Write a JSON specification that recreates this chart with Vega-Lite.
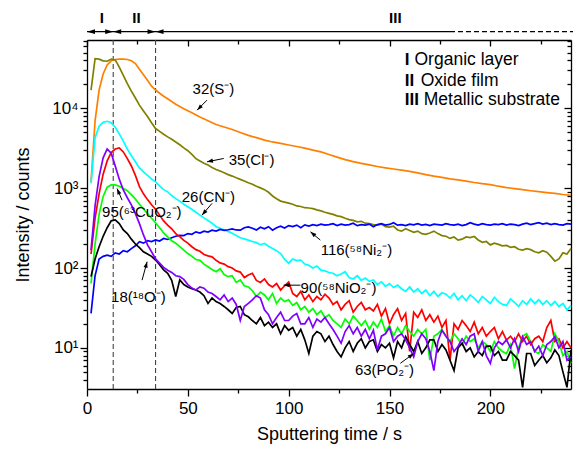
{
"$schema": "https://vega.github.io/schema/vega-lite/v6.json",
"width": 484, "height": 349,
"autosize": "none",
"padding": {"left": 87, "top": 40, "right": 2, "bottom": 63},
"background": "white",
"config": {
 "view": {"stroke": null},
 "font": "Liberation Sans",
 "axis": {"domainColor": "black", "tickColor": "black", "labelColor": "black", "titleColor": "black", "grid": false, "domainWidth": 1.3, "tickWidth": 1.3, "labelFont": "Liberation Sans", "titleFont": "Liberation Sans", "titleFontWeight": "normal", "labelFontSize": 17, "titleFontSize": 18, "labelOverlap": false, "labelFlush": false}
},
"datasets": {
"d": [
{"s":"S","t":2,"v":1200},{"s":"S","t":4,"v":7000},{"s":"S","t":6,"v":17000},{"s":"S","t":8,"v":27000},{"s":"S","t":10,"v":35000},{"s":"S","t":12,"v":39500},{"s":"S","t":14,"v":41000},{"s":"S","t":16,"v":41500},{"s":"S","t":18,"v":41500},{"s":"S","t":20,"v":41000},{"s":"S","t":22,"v":39500},{"s":"S","t":24,"v":36500},{"s":"S","t":26,"v":31000},{"s":"S","t":28,"v":26500},{"s":"S","t":30,"v":22500},{"s":"S","t":32,"v":19000},{"s":"S","t":34,"v":17000},{"s":"S","t":36,"v":15500},{"s":"S","t":38,"v":14200},{"s":"S","t":40,"v":13200},{"s":"S","t":44,"v":11300},{"s":"S","t":48,"v":9900},{"s":"S","t":52,"v":8800},{"s":"S","t":56,"v":7800},{"s":"S","t":60,"v":7000},{"s":"S","t":64,"v":6300},{"s":"S","t":68,"v":5850},{"s":"S","t":72,"v":5450},{"s":"S","t":76,"v":5000},{"s":"S","t":80,"v":4600},{"s":"S","t":84,"v":4300},{"s":"S","t":88,"v":4000},{"s":"S","t":92,"v":3800},{"s":"S","t":96,"v":3640},{"s":"S","t":100,"v":3480},{"s":"S","t":104,"v":3330},{"s":"S","t":108,"v":3180},{"s":"S","t":112,"v":3000},{"s":"S","t":116,"v":2850},{"s":"S","t":120,"v":2650},{"s":"S","t":124,"v":2450},{"s":"S","t":128,"v":2280},{"s":"S","t":132,"v":2150},{"s":"S","t":136,"v":2050},{"s":"S","t":140,"v":1960},{"s":"S","t":144,"v":1870},{"s":"S","t":148,"v":1800},{"s":"S","t":152,"v":1740},{"s":"S","t":156,"v":1690},{"s":"S","t":160,"v":1630},{"s":"S","t":164,"v":1560},{"s":"S","t":168,"v":1480},{"s":"S","t":172,"v":1420},{"s":"S","t":176,"v":1370},{"s":"S","t":180,"v":1310},{"s":"S","t":184,"v":1270},{"s":"S","t":188,"v":1230},{"s":"S","t":192,"v":1180},{"s":"S","t":196,"v":1140},{"s":"S","t":200,"v":1110},{"s":"S","t":204,"v":1060},{"s":"S","t":208,"v":1020},{"s":"S","t":212,"v":990},{"s":"S","t":216,"v":960},{"s":"S","t":220,"v":930},{"s":"S","t":224,"v":905},{"s":"S","t":228,"v":880},{"s":"S","t":232,"v":860},{"s":"S","t":236,"v":835},{"s":"S","t":240,"v":815},
{"s":"Cl","t":2,"v":17000},{"s":"Cl","t":4,"v":42000},{"s":"Cl","t":6,"v":41500},{"s":"Cl","t":8,"v":39500},{"s":"Cl","t":10,"v":39000},{"s":"Cl","t":12,"v":41500},{"s":"Cl","t":14,"v":40500},{"s":"Cl","t":16,"v":33000},{"s":"Cl","t":18,"v":26000},{"s":"Cl","t":20,"v":20500},{"s":"Cl","t":22,"v":16500},{"s":"Cl","t":24,"v":13500},{"s":"Cl","t":26,"v":11000},{"s":"Cl","t":28,"v":9300},{"s":"Cl","t":30,"v":7900},{"s":"Cl","t":32,"v":6600},{"s":"Cl","t":34,"v":5600},{"s":"Cl","t":36,"v":5150},{"s":"Cl","t":38,"v":4750},{"s":"Cl","t":40,"v":4400},{"s":"Cl","t":42,"v":4100},{"s":"Cl","t":44,"v":3800},{"s":"Cl","t":46,"v":3500},{"s":"Cl","t":48,"v":3200},{"s":"Cl","t":50,"v":2950},{"s":"Cl","t":52,"v":2650},{"s":"Cl","t":54,"v":2350},{"s":"Cl","t":56,"v":2200},{"s":"Cl","t":58,"v":2050},{"s":"Cl","t":60,"v":1950},{"s":"Cl","t":62,"v":1820},{"s":"Cl","t":64,"v":1720},{"s":"Cl","t":66,"v":1640},{"s":"Cl","t":68,"v":1560},{"s":"Cl","t":70,"v":1480},{"s":"Cl","t":72,"v":1420},{"s":"Cl","t":74,"v":1350},{"s":"Cl","t":76,"v":1290},{"s":"Cl","t":78,"v":1230},{"s":"Cl","t":80,"v":1170},{"s":"Cl","t":82,"v":1120},{"s":"Cl","t":84,"v":1060},{"s":"Cl","t":86,"v":1010},{"s":"Cl","t":88,"v":960},{"s":"Cl","t":90,"v":890},{"s":"Cl","t":92,"v":800},{"s":"Cl","t":94,"v":740},{"s":"Cl","t":96,"v":690},{"s":"Cl","t":98,"v":670},{"s":"Cl","t":100,"v":650},{"s":"Cl","t":102,"v":630},{"s":"Cl","t":104,"v":600},{"s":"Cl","t":106,"v":590},{"s":"Cl","t":108,"v":570},{"s":"Cl","t":110,"v":565},{"s":"Cl","t":112,"v":555},{"s":"Cl","t":114,"v":535},{"s":"Cl","t":116,"v":520},{"s":"Cl","t":118,"v":500},{"s":"Cl","t":120,"v":485},{"s":"Cl","t":122,"v":470},{"s":"Cl","t":124,"v":450},{"s":"Cl","t":126,"v":440},{"s":"Cl","t":128,"v":420},{"s":"Cl","t":130,"v":405},{"s":"Cl","t":132,"v":395},{"s":"Cl","t":134,"v":380},{"s":"Cl","t":136,"v":385},{"s":"Cl","t":138,"v":365},{"s":"Cl","t":140,"v":360},{"s":"Cl","t":142,"v":350},{"s":"Cl","t":144,"v":345},{"s":"Cl","t":146,"v":355},{"s":"Cl","t":148,"v":330},{"s":"Cl","t":150,"v":325},{"s":"Cl","t":152,"v":335},{"s":"Cl","t":154,"v":300},{"s":"Cl","t":156,"v":290},{"s":"Cl","t":158,"v":310},{"s":"Cl","t":160,"v":295},{"s":"Cl","t":162,"v":280},{"s":"Cl","t":164,"v":290},{"s":"Cl","t":166,"v":270},{"s":"Cl","t":168,"v":265},{"s":"Cl","t":170,"v":275},{"s":"Cl","t":172,"v":290},{"s":"Cl","t":174,"v":270},{"s":"Cl","t":176,"v":255},{"s":"Cl","t":178,"v":250},{"s":"Cl","t":180,"v":235},{"s":"Cl","t":182,"v":245},{"s":"Cl","t":184,"v":224},{"s":"Cl","t":186,"v":230},{"s":"Cl","t":188,"v":245},{"s":"Cl","t":190,"v":240},{"s":"Cl","t":192,"v":248},{"s":"Cl","t":194,"v":225},{"s":"Cl","t":196,"v":210},{"s":"Cl","t":198,"v":215},{"s":"Cl","t":200,"v":195},{"s":"Cl","t":202,"v":205},{"s":"Cl","t":204,"v":198},{"s":"Cl","t":206,"v":190},{"s":"Cl","t":208,"v":192},{"s":"Cl","t":210,"v":182},{"s":"Cl","t":212,"v":185},{"s":"Cl","t":214,"v":172},{"s":"Cl","t":216,"v":168},{"s":"Cl","t":218,"v":175},{"s":"Cl","t":220,"v":170},{"s":"Cl","t":222,"v":160},{"s":"Cl","t":224,"v":155},{"s":"Cl","t":226,"v":165},{"s":"Cl","t":228,"v":158},{"s":"Cl","t":230,"v":140},{"s":"Cl","t":232,"v":122},{"s":"Cl","t":234,"v":130},{"s":"Cl","t":236,"v":155},{"s":"Cl","t":238,"v":150},{"s":"Cl","t":240,"v":176},
{"s":"CN","t":2,"v":1150},{"s":"CN","t":4,"v":4300},{"s":"CN","t":6,"v":6000},{"s":"CN","t":8,"v":6700},{"s":"CN","t":10,"v":6900},{"s":"CN","t":12,"v":6600},{"s":"CN","t":14,"v":5800},{"s":"CN","t":16,"v":4800},{"s":"CN","t":18,"v":3900},{"s":"CN","t":20,"v":3100},{"s":"CN","t":22,"v":2550},{"s":"CN","t":24,"v":2150},{"s":"CN","t":26,"v":1800},{"s":"CN","t":28,"v":1600},{"s":"CN","t":30,"v":1450},{"s":"CN","t":32,"v":1310},{"s":"CN","t":34,"v":1200},{"s":"CN","t":36,"v":1070},{"s":"CN","t":38,"v":960},{"s":"CN","t":40,"v":900},{"s":"CN","t":42,"v":810},{"s":"CN","t":44,"v":740},{"s":"CN","t":46,"v":690},{"s":"CN","t":48,"v":630},{"s":"CN","t":50,"v":585},{"s":"CN","t":52,"v":545},{"s":"CN","t":54,"v":500},{"s":"CN","t":56,"v":460},{"s":"CN","t":58,"v":425},{"s":"CN","t":60,"v":395},{"s":"CN","t":62,"v":365},{"s":"CN","t":64,"v":330},{"s":"CN","t":66,"v":315},{"s":"CN","t":68,"v":300},{"s":"CN","t":70,"v":288},{"s":"CN","t":72,"v":272},{"s":"CN","t":74,"v":255},{"s":"CN","t":76,"v":240},{"s":"CN","t":78,"v":232},{"s":"CN","t":80,"v":224},{"s":"CN","t":82,"v":215},{"s":"CN","t":84,"v":208},{"s":"CN","t":86,"v":196},{"s":"CN","t":88,"v":203},{"s":"CN","t":90,"v":188},{"s":"CN","t":92,"v":176},{"s":"CN","t":94,"v":165},{"s":"CN","t":96,"v":152},{"s":"CN","t":98,"v":128},{"s":"CN","t":100,"v":115},{"s":"CN","t":102,"v":130},{"s":"CN","t":104,"v":124},{"s":"CN","t":106,"v":126},{"s":"CN","t":108,"v":112},{"s":"CN","t":110,"v":108},{"s":"CN","t":112,"v":100},{"s":"CN","t":114,"v":106},{"s":"CN","t":116,"v":94},{"s":"CN","t":118,"v":92},{"s":"CN","t":120,"v":88},{"s":"CN","t":122,"v":86},{"s":"CN","t":124,"v":80},{"s":"CN","t":126,"v":84},{"s":"CN","t":128,"v":90},{"s":"CN","t":130,"v":76},{"s":"CN","t":132,"v":73},{"s":"CN","t":134,"v":80},{"s":"CN","t":136,"v":70},{"s":"CN","t":138,"v":75},{"s":"CN","t":140,"v":68},{"s":"CN","t":142,"v":71},{"s":"CN","t":144,"v":62},{"s":"CN","t":146,"v":67},{"s":"CN","t":148,"v":59},{"s":"CN","t":150,"v":64},{"s":"CN","t":152,"v":57},{"s":"CN","t":154,"v":61},{"s":"CN","t":156,"v":55},{"s":"CN","t":158,"v":51},{"s":"CN","t":160,"v":58},{"s":"CN","t":162,"v":50},{"s":"CN","t":164,"v":55},{"s":"CN","t":166,"v":48},{"s":"CN","t":168,"v":53},{"s":"CN","t":170,"v":45},{"s":"CN","t":172,"v":51},{"s":"CN","t":174,"v":44},{"s":"CN","t":176,"v":49},{"s":"CN","t":178,"v":47},{"s":"CN","t":180,"v":42},{"s":"CN","t":182,"v":48},{"s":"CN","t":184,"v":40},{"s":"CN","t":186,"v":45},{"s":"CN","t":188,"v":39},{"s":"CN","t":190,"v":46},{"s":"CN","t":192,"v":42},{"s":"CN","t":194,"v":37},{"s":"CN","t":196,"v":44},{"s":"CN","t":198,"v":40},{"s":"CN","t":200,"v":36},{"s":"CN","t":202,"v":43},{"s":"CN","t":204,"v":38},{"s":"CN","t":206,"v":35},{"s":"CN","t":208,"v":34},{"s":"CN","t":210,"v":41},{"s":"CN","t":212,"v":37},{"s":"CN","t":214,"v":33},{"s":"CN","t":216,"v":39},{"s":"CN","t":218,"v":35},{"s":"CN","t":220,"v":41},{"s":"CN","t":222,"v":36},{"s":"CN","t":224,"v":40},{"s":"CN","t":226,"v":35},{"s":"CN","t":228,"v":39},{"s":"CN","t":230,"v":34},{"s":"CN","t":232,"v":38},{"s":"CN","t":234,"v":33},{"s":"CN","t":236,"v":36},{"s":"CN","t":238,"v":30},{"s":"CN","t":240,"v":34},
{"s":"Ni2","t":2,"v":27},{"s":"Ni2","t":4,"v":80},{"s":"Ni2","t":6,"v":130},{"s":"Ni2","t":8,"v":140},{"s":"Ni2","t":10,"v":145},{"s":"Ni2","t":12,"v":140},{"s":"Ni2","t":14,"v":155},{"s":"Ni2","t":16,"v":150},{"s":"Ni2","t":18,"v":165},{"s":"Ni2","t":20,"v":160},{"s":"Ni2","t":22,"v":175},{"s":"Ni2","t":24,"v":190},{"s":"Ni2","t":26,"v":214},{"s":"Ni2","t":28,"v":205},{"s":"Ni2","t":30,"v":220},{"s":"Ni2","t":32,"v":215},{"s":"Ni2","t":34,"v":225},{"s":"Ni2","t":36,"v":218},{"s":"Ni2","t":38,"v":235},{"s":"Ni2","t":40,"v":228},{"s":"Ni2","t":42,"v":240},{"s":"Ni2","t":44,"v":250},{"s":"Ni2","t":46,"v":257},{"s":"Ni2","t":48,"v":255},{"s":"Ni2","t":50,"v":270},{"s":"Ni2","t":52,"v":265},{"s":"Ni2","t":54,"v":284},{"s":"Ni2","t":56,"v":275},{"s":"Ni2","t":58,"v":290},{"s":"Ni2","t":60,"v":282},{"s":"Ni2","t":62,"v":298},{"s":"Ni2","t":64,"v":290},{"s":"Ni2","t":66,"v":305},{"s":"Ni2","t":68,"v":296},{"s":"Ni2","t":70,"v":302},{"s":"Ni2","t":72,"v":310},{"s":"Ni2","t":74,"v":300},{"s":"Ni2","t":76,"v":298},{"s":"Ni2","t":78,"v":320},{"s":"Ni2","t":80,"v":328},{"s":"Ni2","t":82,"v":315},{"s":"Ni2","t":84,"v":300},{"s":"Ni2","t":86,"v":325},{"s":"Ni2","t":88,"v":310},{"s":"Ni2","t":90,"v":330},{"s":"Ni2","t":92,"v":298},{"s":"Ni2","t":94,"v":320},{"s":"Ni2","t":96,"v":335},{"s":"Ni2","t":98,"v":318},{"s":"Ni2","t":100,"v":340},{"s":"Ni2","t":102,"v":330},{"s":"Ni2","t":104,"v":345},{"s":"Ni2","t":106,"v":320},{"s":"Ni2","t":108,"v":347},{"s":"Ni2","t":110,"v":335},{"s":"Ni2","t":112,"v":350},{"s":"Ni2","t":114,"v":340},{"s":"Ni2","t":116,"v":355},{"s":"Ni2","t":118,"v":345},{"s":"Ni2","t":120,"v":350},{"s":"Ni2","t":122,"v":360},{"s":"Ni2","t":124,"v":340},{"s":"Ni2","t":126,"v":355},{"s":"Ni2","t":128,"v":345},{"s":"Ni2","t":130,"v":350},{"s":"Ni2","t":132,"v":365},{"s":"Ni2","t":134,"v":340},{"s":"Ni2","t":136,"v":350},{"s":"Ni2","t":138,"v":345},{"s":"Ni2","t":140,"v":355},{"s":"Ni2","t":142,"v":330},{"s":"Ni2","t":144,"v":350},{"s":"Ni2","t":146,"v":360},{"s":"Ni2","t":148,"v":345},{"s":"Ni2","t":150,"v":352},{"s":"Ni2","t":152,"v":370},{"s":"Ni2","t":154,"v":345},{"s":"Ni2","t":156,"v":350},{"s":"Ni2","t":158,"v":340},{"s":"Ni2","t":160,"v":355},{"s":"Ni2","t":162,"v":348},{"s":"Ni2","t":164,"v":360},{"s":"Ni2","t":166,"v":345},{"s":"Ni2","t":168,"v":352},{"s":"Ni2","t":170,"v":340},{"s":"Ni2","t":172,"v":355},{"s":"Ni2","t":174,"v":350},{"s":"Ni2","t":176,"v":345},{"s":"Ni2","t":178,"v":360},{"s":"Ni2","t":180,"v":350},{"s":"Ni2","t":182,"v":345},{"s":"Ni2","t":184,"v":355},{"s":"Ni2","t":186,"v":340},{"s":"Ni2","t":188,"v":350},{"s":"Ni2","t":190,"v":370},{"s":"Ni2","t":192,"v":355},{"s":"Ni2","t":194,"v":345},{"s":"Ni2","t":196,"v":360},{"s":"Ni2","t":198,"v":350},{"s":"Ni2","t":200,"v":345},{"s":"Ni2","t":202,"v":355},{"s":"Ni2","t":204,"v":350},{"s":"Ni2","t":206,"v":360},{"s":"Ni2","t":208,"v":345},{"s":"Ni2","t":210,"v":355},{"s":"Ni2","t":212,"v":350},{"s":"Ni2","t":214,"v":340},{"s":"Ni2","t":216,"v":355},{"s":"Ni2","t":218,"v":365},{"s":"Ni2","t":220,"v":350},{"s":"Ni2","t":222,"v":360},{"s":"Ni2","t":224,"v":370},{"s":"Ni2","t":226,"v":355},{"s":"Ni2","t":228,"v":365},{"s":"Ni2","t":230,"v":350},{"s":"Ni2","t":232,"v":360},{"s":"Ni2","t":234,"v":350},{"s":"Ni2","t":236,"v":345},{"s":"Ni2","t":238,"v":360},{"s":"Ni2","t":240,"v":355},
{"s":"NiO2","t":2,"v":150},{"s":"NiO2","t":4,"v":420},{"s":"NiO2","t":6,"v":850},{"s":"NiO2","t":8,"v":1500},{"s":"NiO2","t":10,"v":2200},{"s":"NiO2","t":12,"v":2800},{"s":"NiO2","t":14,"v":3100},{"s":"NiO2","t":16,"v":3200},{"s":"NiO2","t":18,"v":2850},{"s":"NiO2","t":20,"v":2350},{"s":"NiO2","t":22,"v":1900},{"s":"NiO2","t":24,"v":1450},{"s":"NiO2","t":26,"v":1050},{"s":"NiO2","t":28,"v":850},{"s":"NiO2","t":30,"v":720},{"s":"NiO2","t":32,"v":620},{"s":"NiO2","t":34,"v":545},{"s":"NiO2","t":36,"v":460},{"s":"NiO2","t":38,"v":390},{"s":"NiO2","t":40,"v":345},{"s":"NiO2","t":42,"v":310},{"s":"NiO2","t":44,"v":270},{"s":"NiO2","t":46,"v":248},{"s":"NiO2","t":48,"v":222},{"s":"NiO2","t":50,"v":205},{"s":"NiO2","t":52,"v":185},{"s":"NiO2","t":54,"v":170},{"s":"NiO2","t":56,"v":162},{"s":"NiO2","t":58,"v":148},{"s":"NiO2","t":60,"v":142},{"s":"NiO2","t":62,"v":138},{"s":"NiO2","t":64,"v":125},{"s":"NiO2","t":66,"v":116},{"s":"NiO2","t":68,"v":112},{"s":"NiO2","t":70,"v":104},{"s":"NiO2","t":72,"v":100},{"s":"NiO2","t":74,"v":92},{"s":"NiO2","t":76,"v":89},{"s":"NiO2","t":78,"v":76},{"s":"NiO2","t":80,"v":82},{"s":"NiO2","t":82,"v":86},{"s":"NiO2","t":84,"v":70},{"s":"NiO2","t":86,"v":66},{"s":"NiO2","t":88,"v":73},{"s":"NiO2","t":90,"v":62},{"s":"NiO2","t":92,"v":58},{"s":"NiO2","t":94,"v":64},{"s":"NiO2","t":96,"v":53},{"s":"NiO2","t":98,"v":60},{"s":"NiO2","t":100,"v":67},{"s":"NiO2","t":102,"v":48},{"s":"NiO2","t":104,"v":44},{"s":"NiO2","t":106,"v":51},{"s":"NiO2","t":108,"v":40},{"s":"NiO2","t":110,"v":46},{"s":"NiO2","t":112,"v":38},{"s":"NiO2","t":114,"v":44},{"s":"NiO2","t":116,"v":40},{"s":"NiO2","t":118,"v":47},{"s":"NiO2","t":120,"v":42},{"s":"NiO2","t":122,"v":35},{"s":"NiO2","t":124,"v":38},{"s":"NiO2","t":126,"v":30},{"s":"NiO2","t":128,"v":35},{"s":"NiO2","t":130,"v":39},{"s":"NiO2","t":132,"v":28},{"s":"NiO2","t":134,"v":33},{"s":"NiO2","t":136,"v":37},{"s":"NiO2","t":138,"v":30},{"s":"NiO2","t":140,"v":32},{"s":"NiO2","t":142,"v":29},{"s":"NiO2","t":144,"v":35},{"s":"NiO2","t":146,"v":25},{"s":"NiO2","t":148,"v":31},{"s":"NiO2","t":150,"v":20},{"s":"NiO2","t":152,"v":26},{"s":"NiO2","t":154,"v":31},{"s":"NiO2","t":156,"v":22},{"s":"NiO2","t":158,"v":27},{"s":"NiO2","t":160,"v":9},{"s":"NiO2","t":162,"v":28},{"s":"NiO2","t":164,"v":24},{"s":"NiO2","t":166,"v":30},{"s":"NiO2","t":168,"v":22},{"s":"NiO2","t":170,"v":26},{"s":"NiO2","t":172,"v":21},{"s":"NiO2","t":174,"v":25},{"s":"NiO2","t":176,"v":18},{"s":"NiO2","t":178,"v":22},{"s":"NiO2","t":180,"v":7},{"s":"NiO2","t":182,"v":20},{"s":"NiO2","t":184,"v":17},{"s":"NiO2","t":186,"v":22},{"s":"NiO2","t":188,"v":19},{"s":"NiO2","t":190,"v":16},{"s":"NiO2","t":192,"v":21},{"s":"NiO2","t":194,"v":15},{"s":"NiO2","t":196,"v":18},{"s":"NiO2","t":198,"v":14},{"s":"NiO2","t":200,"v":16},{"s":"NiO2","t":202,"v":18},{"s":"NiO2","t":204,"v":13},{"s":"NiO2","t":206,"v":16},{"s":"NiO2","t":208,"v":12.5},{"s":"NiO2","t":210,"v":14},{"s":"NiO2","t":212,"v":12},{"s":"NiO2","t":214,"v":15},{"s":"NiO2","t":216,"v":12},{"s":"NiO2","t":218,"v":14},{"s":"NiO2","t":220,"v":11},{"s":"NiO2","t":222,"v":13},{"s":"NiO2","t":224,"v":14},{"s":"NiO2","t":226,"v":12},{"s":"NiO2","t":228,"v":18},{"s":"NiO2","t":230,"v":22},{"s":"NiO2","t":232,"v":12},{"s":"NiO2","t":234,"v":13},{"s":"NiO2","t":236,"v":10},{"s":"NiO2","t":238,"v":12},{"s":"NiO2","t":240,"v":10},
{"s":"CuO2","t":2,"v":64},{"s":"CuO2","t":4,"v":200},{"s":"CuO2","t":6,"v":470},{"s":"CuO2","t":8,"v":790},{"s":"CuO2","t":10,"v":1030},{"s":"CuO2","t":12,"v":1100},{"s":"CuO2","t":14,"v":1100},{"s":"CuO2","t":16,"v":1060},{"s":"CuO2","t":18,"v":990},{"s":"CuO2","t":20,"v":930},{"s":"CuO2","t":22,"v":830},{"s":"CuO2","t":24,"v":730},{"s":"CuO2","t":26,"v":630},{"s":"CuO2","t":28,"v":550},{"s":"CuO2","t":30,"v":480},{"s":"CuO2","t":32,"v":420},{"s":"CuO2","t":34,"v":370},{"s":"CuO2","t":36,"v":320},{"s":"CuO2","t":38,"v":275},{"s":"CuO2","t":40,"v":245},{"s":"CuO2","t":42,"v":220},{"s":"CuO2","t":44,"v":205},{"s":"CuO2","t":46,"v":185},{"s":"CuO2","t":48,"v":168},{"s":"CuO2","t":50,"v":152},{"s":"CuO2","t":52,"v":140},{"s":"CuO2","t":54,"v":128},{"s":"CuO2","t":56,"v":125},{"s":"CuO2","t":58,"v":112},{"s":"CuO2","t":60,"v":104},{"s":"CuO2","t":62,"v":96},{"s":"CuO2","t":64,"v":90},{"s":"CuO2","t":66,"v":98},{"s":"CuO2","t":68,"v":83},{"s":"CuO2","t":70,"v":78},{"s":"CuO2","t":72,"v":80},{"s":"CuO2","t":74,"v":66},{"s":"CuO2","t":76,"v":71},{"s":"CuO2","t":78,"v":60},{"s":"CuO2","t":80,"v":58},{"s":"CuO2","t":82,"v":52},{"s":"CuO2","t":84,"v":44},{"s":"CuO2","t":86,"v":50},{"s":"CuO2","t":88,"v":46},{"s":"CuO2","t":90,"v":40},{"s":"CuO2","t":92,"v":48},{"s":"CuO2","t":94,"v":36},{"s":"CuO2","t":96,"v":42},{"s":"CuO2","t":98,"v":38},{"s":"CuO2","t":100,"v":40},{"s":"CuO2","t":102,"v":34},{"s":"CuO2","t":104,"v":37},{"s":"CuO2","t":106,"v":30},{"s":"CuO2","t":108,"v":33},{"s":"CuO2","t":110,"v":28},{"s":"CuO2","t":112,"v":31},{"s":"CuO2","t":114,"v":26},{"s":"CuO2","t":116,"v":29},{"s":"CuO2","t":118,"v":24},{"s":"CuO2","t":120,"v":26},{"s":"CuO2","t":122,"v":22},{"s":"CuO2","t":124,"v":20},{"s":"CuO2","t":126,"v":18},{"s":"CuO2","t":128,"v":23},{"s":"CuO2","t":130,"v":20},{"s":"CuO2","t":132,"v":25},{"s":"CuO2","t":134,"v":22},{"s":"CuO2","t":136,"v":19},{"s":"CuO2","t":138,"v":22},{"s":"CuO2","t":140,"v":17},{"s":"CuO2","t":142,"v":21},{"s":"CuO2","t":144,"v":18},{"s":"CuO2","t":146,"v":23},{"s":"CuO2","t":148,"v":16},{"s":"CuO2","t":150,"v":19},{"s":"CuO2","t":152,"v":14},{"s":"CuO2","t":154,"v":18},{"s":"CuO2","t":156,"v":15},{"s":"CuO2","t":158,"v":19},{"s":"CuO2","t":160,"v":16},{"s":"CuO2","t":162,"v":14},{"s":"CuO2","t":164,"v":17},{"s":"CuO2","t":166,"v":15},{"s":"CuO2","t":168,"v":17},{"s":"CuO2","t":170,"v":7},{"s":"CuO2","t":172,"v":14},{"s":"CuO2","t":174,"v":15},{"s":"CuO2","t":176,"v":17},{"s":"CuO2","t":178,"v":14},{"s":"CuO2","t":180,"v":12},{"s":"CuO2","t":182,"v":15},{"s":"CuO2","t":184,"v":13},{"s":"CuO2","t":186,"v":11},{"s":"CuO2","t":188,"v":14},{"s":"CuO2","t":190,"v":12},{"s":"CuO2","t":192,"v":13},{"s":"CuO2","t":194,"v":10},{"s":"CuO2","t":196,"v":12},{"s":"CuO2","t":198,"v":11},{"s":"CuO2","t":200,"v":9},{"s":"CuO2","t":202,"v":12},{"s":"CuO2","t":204,"v":10},{"s":"CuO2","t":206,"v":9},{"s":"CuO2","t":208,"v":8.5},{"s":"CuO2","t":210,"v":11},{"s":"CuO2","t":212,"v":5.5},{"s":"CuO2","t":214,"v":10},{"s":"CuO2","t":216,"v":14},{"s":"CuO2","t":218,"v":15},{"s":"CuO2","t":220,"v":12},{"s":"CuO2","t":222,"v":9},{"s":"CuO2","t":224,"v":8.5},{"s":"CuO2","t":226,"v":11},{"s":"CuO2","t":228,"v":10},{"s":"CuO2","t":230,"v":9},{"s":"CuO2","t":232,"v":15},{"s":"CuO2","t":234,"v":12},{"s":"CuO2","t":236,"v":8},{"s":"CuO2","t":238,"v":9},{"s":"CuO2","t":240,"v":6.4},
{"s":"O","t":2,"v":78},{"s":"O","t":4,"v":130},{"s":"O","t":6,"v":185},{"s":"O","t":8,"v":250},{"s":"O","t":10,"v":320},{"s":"O","t":12,"v":390},{"s":"O","t":14,"v":400},{"s":"O","t":16,"v":360},{"s":"O","t":18,"v":300},{"s":"O","t":20,"v":270},{"s":"O","t":22,"v":230},{"s":"O","t":24,"v":200},{"s":"O","t":26,"v":180},{"s":"O","t":28,"v":160},{"s":"O","t":30,"v":150},{"s":"O","t":32,"v":140},{"s":"O","t":34,"v":126},{"s":"O","t":36,"v":110},{"s":"O","t":38,"v":95},{"s":"O","t":40,"v":86},{"s":"O","t":42,"v":70},{"s":"O","t":44,"v":44},{"s":"O","t":46,"v":71},{"s":"O","t":48,"v":62},{"s":"O","t":50,"v":58},{"s":"O","t":52,"v":55},{"s":"O","t":54,"v":53},{"s":"O","t":56,"v":50},{"s":"O","t":58,"v":45},{"s":"O","t":60,"v":36},{"s":"O","t":62,"v":42},{"s":"O","t":64,"v":38},{"s":"O","t":66,"v":36},{"s":"O","t":68,"v":33},{"s":"O","t":70,"v":30},{"s":"O","t":72,"v":27},{"s":"O","t":74,"v":32},{"s":"O","t":76,"v":33},{"s":"O","t":78,"v":26},{"s":"O","t":80,"v":24.5},{"s":"O","t":82,"v":22},{"s":"O","t":84,"v":20},{"s":"O","t":86,"v":24},{"s":"O","t":88,"v":19},{"s":"O","t":90,"v":21},{"s":"O","t":92,"v":18},{"s":"O","t":94,"v":20},{"s":"O","t":96,"v":15},{"s":"O","t":98,"v":19},{"s":"O","t":100,"v":16.6},{"s":"O","t":102,"v":18},{"s":"O","t":104,"v":14},{"s":"O","t":106,"v":17},{"s":"O","t":108,"v":12.6},{"s":"O","t":110,"v":8.5},{"s":"O","t":112,"v":14},{"s":"O","t":114,"v":16},{"s":"O","t":116,"v":15},{"s":"O","t":118,"v":12},{"s":"O","t":120,"v":14},{"s":"O","t":122,"v":11},{"s":"O","t":124,"v":9},{"s":"O","t":126,"v":7.7},{"s":"O","t":128,"v":10},{"s":"O","t":130,"v":12},{"s":"O","t":132,"v":9},{"s":"O","t":134,"v":11.4},{"s":"O","t":136,"v":13},{"s":"O","t":138,"v":10},{"s":"O","t":140,"v":12},{"s":"O","t":142,"v":12.6},{"s":"O","t":144,"v":9},{"s":"O","t":146,"v":11},{"s":"O","t":148,"v":10},{"s":"O","t":150,"v":11.4},{"s":"O","t":152,"v":7.5},{"s":"O","t":154,"v":12},{"s":"O","t":156,"v":10},{"s":"O","t":158,"v":13.8},{"s":"O","t":160,"v":11},{"s":"O","t":162,"v":9},{"s":"O","t":164,"v":12},{"s":"O","t":166,"v":8.5},{"s":"O","t":168,"v":10},{"s":"O","t":170,"v":12.6},{"s":"O","t":172,"v":12.6},{"s":"O","t":174,"v":9},{"s":"O","t":176,"v":11},{"s":"O","t":178,"v":9.4},{"s":"O","t":180,"v":7},{"s":"O","t":182,"v":5.2},{"s":"O","t":184,"v":10},{"s":"O","t":186,"v":11.4},{"s":"O","t":188,"v":9},{"s":"O","t":190,"v":10},{"s":"O","t":192,"v":7.7},{"s":"O","t":194,"v":9},{"s":"O","t":196,"v":8},{"s":"O","t":198,"v":10.5},{"s":"O","t":200,"v":10.5},{"s":"O","t":202,"v":8},{"s":"O","t":204,"v":9},{"s":"O","t":206,"v":7},{"s":"O","t":208,"v":7},{"s":"O","t":210,"v":9},{"s":"O","t":212,"v":8},{"s":"O","t":214,"v":7},{"s":"O","t":216,"v":3.2},{"s":"O","t":218,"v":8.5},{"s":"O","t":220,"v":8.5},{"s":"O","t":222,"v":6},{"s":"O","t":224,"v":7},{"s":"O","t":226,"v":8},{"s":"O","t":228,"v":6.5},{"s":"O","t":230,"v":7.5},{"s":"O","t":232,"v":9.4},{"s":"O","t":234,"v":8},{"s":"O","t":236,"v":5},{"s":"O","t":238,"v":3.2},{"s":"O","t":240,"v":9.4},
{"s":"PO2","t":2,"v":168},{"s":"PO2","t":4,"v":600},{"s":"PO2","t":6,"v":1400},{"s":"PO2","t":8,"v":2400},{"s":"PO2","t":10,"v":3100},{"s":"PO2","t":12,"v":2750},{"s":"PO2","t":14,"v":1900},{"s":"PO2","t":16,"v":1300},{"s":"PO2","t":18,"v":950},{"s":"PO2","t":20,"v":760},{"s":"PO2","t":22,"v":620},{"s":"PO2","t":24,"v":480},{"s":"PO2","t":26,"v":360},{"s":"PO2","t":28,"v":260},{"s":"PO2","t":30,"v":195},{"s":"PO2","t":32,"v":160},{"s":"PO2","t":34,"v":130},{"s":"PO2","t":36,"v":115},{"s":"PO2","t":38,"v":102},{"s":"PO2","t":40,"v":94},{"s":"PO2","t":42,"v":88},{"s":"PO2","t":44,"v":80},{"s":"PO2","t":46,"v":78},{"s":"PO2","t":48,"v":72},{"s":"PO2","t":50,"v":62},{"s":"PO2","t":52,"v":56},{"s":"PO2","t":54,"v":53},{"s":"PO2","t":56,"v":58},{"s":"PO2","t":58,"v":56},{"s":"PO2","t":60,"v":50},{"s":"PO2","t":62,"v":48},{"s":"PO2","t":64,"v":44},{"s":"PO2","t":66,"v":40},{"s":"PO2","t":68,"v":46},{"s":"PO2","t":70,"v":38},{"s":"PO2","t":72,"v":42},{"s":"PO2","t":74,"v":35},{"s":"PO2","t":76,"v":22},{"s":"PO2","t":78,"v":33},{"s":"PO2","t":80,"v":36},{"s":"PO2","t":82,"v":40},{"s":"PO2","t":84,"v":45},{"s":"PO2","t":86,"v":42},{"s":"PO2","t":88,"v":30},{"s":"PO2","t":90,"v":26},{"s":"PO2","t":92,"v":20},{"s":"PO2","t":94,"v":24},{"s":"PO2","t":96,"v":28},{"s":"PO2","t":98,"v":22},{"s":"PO2","t":100,"v":22},{"s":"PO2","t":102,"v":25},{"s":"PO2","t":104,"v":27},{"s":"PO2","t":106,"v":20},{"s":"PO2","t":108,"v":20},{"s":"PO2","t":110,"v":24},{"s":"PO2","t":112,"v":18},{"s":"PO2","t":114,"v":23},{"s":"PO2","t":116,"v":21},{"s":"PO2","t":118,"v":24},{"s":"PO2","t":120,"v":20},{"s":"PO2","t":122,"v":17},{"s":"PO2","t":124,"v":14},{"s":"PO2","t":126,"v":11.4},{"s":"PO2","t":128,"v":16},{"s":"PO2","t":130,"v":19},{"s":"PO2","t":132,"v":15},{"s":"PO2","t":134,"v":18},{"s":"PO2","t":136,"v":14},{"s":"PO2","t":138,"v":17},{"s":"PO2","t":140,"v":13},{"s":"PO2","t":142,"v":16.6},{"s":"PO2","t":144,"v":9.4},{"s":"PO2","t":146,"v":14},{"s":"PO2","t":148,"v":15},{"s":"PO2","t":150,"v":18},{"s":"PO2","t":152,"v":12},{"s":"PO2","t":154,"v":14},{"s":"PO2","t":156,"v":15},{"s":"PO2","t":158,"v":12.6},{"s":"PO2","t":160,"v":10},{"s":"PO2","t":162,"v":7.7},{"s":"PO2","t":164,"v":12},{"s":"PO2","t":166,"v":15},{"s":"PO2","t":168,"v":13},{"s":"PO2","t":170,"v":9},{"s":"PO2","t":172,"v":5.2},{"s":"PO2","t":174,"v":12},{"s":"PO2","t":176,"v":16.6},{"s":"PO2","t":178,"v":14},{"s":"PO2","t":180,"v":12},{"s":"PO2","t":182,"v":9},{"s":"PO2","t":184,"v":10.5},{"s":"PO2","t":186,"v":13},{"s":"PO2","t":188,"v":11},{"s":"PO2","t":190,"v":14},{"s":"PO2","t":192,"v":15},{"s":"PO2","t":194,"v":9},{"s":"PO2","t":196,"v":12},{"s":"PO2","t":198,"v":8},{"s":"PO2","t":200,"v":6.4},{"s":"PO2","t":202,"v":10},{"s":"PO2","t":204,"v":12},{"s":"PO2","t":206,"v":11},{"s":"PO2","t":208,"v":12.6},{"s":"PO2","t":210,"v":10},{"s":"PO2","t":212,"v":13},{"s":"PO2","t":214,"v":9},{"s":"PO2","t":216,"v":13.8},{"s":"PO2","t":218,"v":11},{"s":"PO2","t":220,"v":12},{"s":"PO2","t":222,"v":9},{"s":"PO2","t":224,"v":10.5},{"s":"PO2","t":226,"v":8},{"s":"PO2","t":228,"v":11},{"s":"PO2","t":230,"v":12},{"s":"PO2","t":232,"v":13.8},{"s":"PO2","t":234,"v":10},{"s":"PO2","t":236,"v":12},{"s":"PO2","t":238,"v":7},{"s":"PO2","t":240,"v":7.7}
],
"arr": [
{"tx":59.5,"ty":12700,"hx":54.6,"hy":9520,"ang":225},
{"tx":67.8,"ty":2360,"hx":59.5,"hy":2140,"ang":258},
{"tx":62,"ty":646,"hx":57,"hy":460,"ang":220},
{"tx":115.7,"ty":224,"hx":110.8,"hy":284,"ang":310},
{"tx":105.8,"ty":61,"hx":97.5,"hy":61,"ang":270},
{"tx":17.4,"ty":708,"hx":14.9,"hy":993,"ang":337},
{"tx":27.3,"ty":70.5,"hx":29.8,"hy":120,"ang":15},
{"tx":155.4,"ty":6.4,"hx":162,"hy":8.5,"ang":53}
],
"lab": [
{"txt":"32(S⁻)","x":62.7,"y":17500},
{"txt":"35(Cl⁻)","x":81.6,"y":2250},
{"txt":"26(CN⁻)","x":60.2,"y":774},
{"txt":"116(⁵⁸Ni₂⁻)","x":133.6,"y":168},
{"txt":"90(⁵⁸NiO₂⁻)","x":124.7,"y":56},
{"txt":"95(⁶³CuO₂⁻)","x":27.2,"y":506},
{"txt":"18(¹⁸O⁻)","x":25.5,"y":43.5},
{"txt":"63(PO₂⁻)","x":147.5,"y":5.25}
]
},
"layer": [
{"data": {"values": [{"x": 13}, {"x": 34}]},
 "mark": {"type": "rule", "strokeDash": [5, 3], "color": "#444444", "strokeWidth": 1.1},
 "encoding": {"x": {"field": "x", "type": "quantitative", "scale": {"domain": [0, 240], "nice": false, "zero": false}, "axis": null}}},
{"data": {"name": "d"},
 "mark": {"type": "line", "strokeWidth": 1.7},
 "encoding": {
  "x": {"field": "t", "type": "quantitative", "scale": {"domain": [0, 240], "nice": false, "zero": false},
   "axis": {"orient": "bottom", "values": [0,25,50,75,100,125,150,175,200,225], "labelExpr": "datum.value % 50 === 0 ? datum.label : ''", "tickSize": {"condition": {"test": "datum.value % 50 === 0", "value": 7}, "value": 4}, "labelPadding": 4, "title": "Sputtering time / s", "titlePadding": 9}},
  "y": {"field": "v", "type": "quantitative", "scale": {"type": "log", "domain": [3.05, 72000], "nice": false},
   "axis": {"orient": "left", "values": [4,5,6,7,8,9,10,20,30,40,50,60,70,80,90,100,200,300,400,500,600,700,800,900,1000,2000,3000,4000,5000,6000,7000,8000,9000,10000,20000,30000,40000,50000,60000,70000], "labelExpr": "datum.value == 10 ? '10¹' : datum.value == 100 ? '10²' : datum.value == 1000 ? '10³' : datum.value == 10000 ? '10⁴' : ''", "tickSize": {"condition": {"test": "datum.value == 10 || datum.value == 100 || datum.value == 1000 || datum.value == 10000", "value": 7}, "value": 4}, "labelPadding": 2, "title": "Intensity / counts", "titlePadding": 19}},
  "color": {"field": "s", "type": "nominal", "legend": null, "scale": {"domain": ["S", "Cl", "CN", "Ni2", "NiO2", "CuO2", "O", "PO2"], "range": ["#FF8000", "#808000", "#00FFFF", "#0000FF", "#FF0000", "#00FF00", "#000000", "#8000FF"]}}
 }},
{"data": {"name": "arr"},
 "mark": {"type": "rule", "strokeWidth": 1, "color": "black"},
 "encoding": {
  "x": {"field": "tx", "type": "quantitative", "scale": {"domain": [0, 240], "nice": false, "zero": false}, "axis": null},
  "y": {"field": "ty", "type": "quantitative", "scale": {"type": "log", "domain": [3.05, 72000], "nice": false}, "axis": null},
  "x2": {"field": "hx"}, "y2": {"field": "hy"}}},
{"data": {"name": "arr"},
 "mark": {"type": "point", "shape": "M0,0L0.7,2L-0.7,2Z", "size": 36, "filled": true, "color": "black", "opacity": 1, "strokeWidth": 0},
 "encoding": {
  "x": {"field": "hx", "type": "quantitative", "scale": {"domain": [0, 240], "nice": false, "zero": false}, "axis": null},
  "y": {"field": "hy", "type": "quantitative", "scale": {"type": "log", "domain": [3.05, 72000], "nice": false}, "axis": null},
  "angle": {"field": "ang", "type": "quantitative", "scale": null}}},
{"data": {"name": "lab"},
 "mark": {"type": "text", "fontSize": 15, "font": "Liberation Sans", "align": "center", "baseline": "middle", "color": "black"},
 "encoding": {
  "x": {"field": "x", "type": "quantitative", "scale": {"domain": [0, 240], "nice": false, "zero": false}, "axis": null},
  "y": {"field": "y", "type": "quantitative", "scale": {"type": "log", "domain": [3.05, 72000], "nice": false}, "axis": null},
  "text": {"field": "txt"}}},
{"data": {"values": [{"a": 0, "b": 180, "y": 91500}]},
 "mark": {"type": "rule", "strokeWidth": 1.3, "color": "black"},
 "encoding": {
  "x": {"field": "a", "type": "quantitative", "scale": {"domain": [0, 240], "nice": false, "zero": false}, "axis": null},
  "x2": {"field": "b"},
  "y": {"field": "y", "type": "quantitative", "scale": {"type": "log", "domain": [3.05, 72000], "nice": false}, "axis": null}}},
{"data": {"values": [{"a": 180, "b": 241, "y": 91500}]},
 "mark": {"type": "rule", "strokeWidth": 1.3, "color": "black", "strokeDash": [5, 3]},
 "encoding": {
  "x": {"field": "a", "type": "quantitative", "scale": {"domain": [0, 240], "nice": false, "zero": false}, "axis": null},
  "x2": {"field": "b"},
  "y": {"field": "y", "type": "quantitative", "scale": {"type": "log", "domain": [3.05, 72000], "nice": false}, "axis": null}}},
{"data": {"values": [{"x": 0, "y": 91500}, {"x": 13, "y": 91500}, {"x": 34, "y": 91500}]},
 "mark": {"type": "point", "shape": "M0,0L2,-0.6L2,0.6Z", "size": 64, "filled": true, "color": "black", "opacity": 1, "strokeWidth": 0},
 "encoding": {
  "x": {"field": "x", "type": "quantitative", "scale": {"domain": [0, 240], "nice": false, "zero": false}, "axis": null},
  "y": {"field": "y", "type": "quantitative", "scale": {"type": "log", "domain": [3.05, 72000], "nice": false}, "axis": null}}},
{"data": {"values": [{"x": 13, "y": 91500}, {"x": 34, "y": 91500}]},
 "mark": {"type": "point", "shape": "M0,0L-2,-0.6L-2,0.6Z", "size": 64, "filled": true, "color": "black", "opacity": 1, "strokeWidth": 0},
 "encoding": {
  "x": {"field": "x", "type": "quantitative", "scale": {"domain": [0, 240], "nice": false, "zero": false}, "axis": null},
  "y": {"field": "y", "type": "quantitative", "scale": {"type": "log", "domain": [3.05, 72000], "nice": false}, "axis": null}}},
{"data": {"values": [{"r": "I", "x": 7.4, "y": 134700}, {"r": "II", "x": 24.5, "y": 134700}, {"r": "III", "x": 152.9, "y": 134700}]},
 "mark": {"type": "text", "fontSize": 15, "fontWeight": "bold", "font": "Liberation Sans", "align": "center", "baseline": "middle", "color": "black"},
 "encoding": {
  "x": {"field": "x", "type": "quantitative", "scale": {"domain": [0, 240], "nice": false, "zero": false}, "axis": null},
  "y": {"field": "y", "type": "quantitative", "scale": {"type": "log", "domain": [3.05, 72000], "nice": false}, "axis": null},
  "text": {"field": "r"}}},
{"data": {"values": [{"n": "I", "x": 157.6, "y": 40440}, {"n": "II", "x": 157.6, "y": 22060}, {"n": "III", "x": 157.6, "y": 12750}]},
 "mark": {"type": "text", "fontSize": 17, "fontWeight": "bold", "font": "Liberation Sans", "align": "left", "baseline": "middle", "color": "black"},
 "encoding": {
  "x": {"field": "x", "type": "quantitative", "scale": {"domain": [0, 240], "nice": false, "zero": false},
   "axis": {"orient": "top", "values": [0,25,50,75,100,125,150,175,200,225], "labels": false, "title": null, "tickSize": {"condition": {"test": "datum.value % 50 === 0", "value": -6}, "value": -4}}},
  "y": {"field": "y", "type": "quantitative", "scale": {"type": "log", "domain": [3.05, 72000], "nice": false},
   "axis": {"orient": "right", "values": [4,5,6,7,8,9,10,20,30,40,50,60,70,80,90,100,200,300,400,500,600,700,800,900,1000,2000,3000,4000,5000,6000,7000,8000,9000,10000,20000,30000,40000,50000,60000,70000], "labels": false, "title": null, "tickSize": {"condition": {"test": "datum.value == 10 || datum.value == 100 || datum.value == 1000 || datum.value == 10000", "value": -7}, "value": -4}}},
  "text": {"field": "n"}}},
{"data": {"values": [{"t": "Organic layer", "x": 162.4, "y": 40440}, {"t": "Oxide film", "x": 165.5, "y": 22060}, {"t": "Metallic substrate", "x": 167.0, "y": 12750}]},
 "mark": {"type": "text", "fontSize": 17.5, "font": "Liberation Sans", "align": "left", "baseline": "middle", "color": "black"},
 "encoding": {
  "x": {"field": "x", "type": "quantitative", "scale": {"domain": [0, 240], "nice": false, "zero": false}, "axis": null},
  "y": {"field": "y", "type": "quantitative", "scale": {"type": "log", "domain": [3.05, 72000], "nice": false}, "axis": null},
  "text": {"field": "t"}}}
],
"resolve": {"axis": {"x": "independent", "y": "independent"}}
}
